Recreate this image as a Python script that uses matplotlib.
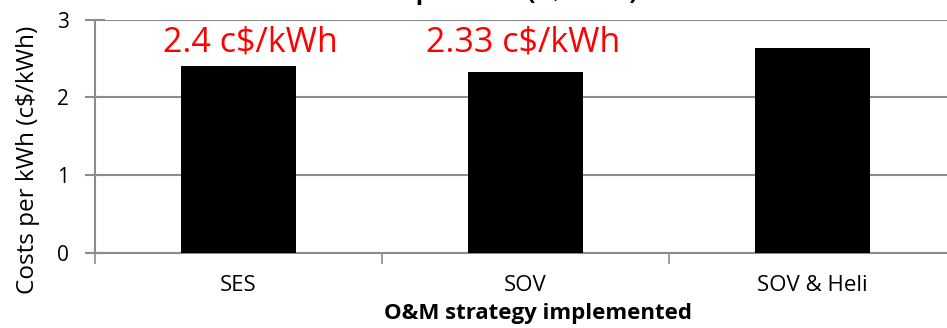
import matplotlib
matplotlib.use("Agg")
import matplotlib.pyplot as plt
import numpy as np

categories = ["SES", "SOV", "SOV & Heli"]
values = [2.4, 2.33, 2.63]
annotations = ["2.4 c$/kWh", "2.33 c$/kWh"]
annot_x = [0.04, 0.99]
annot_y = [2.71, 2.71]
title = "Costs per kWh (c$/kWh)"
yticks = [0, 1, 2, 3]

fig = plt.figure(figsize=(9.47, 3.28), dpi=100)
ax_left, ax_bottom = 95/947, 75.3/328
ax_w, ax_h = (956-95)/947, 233/328
ax = fig.add_axes([ax_left, ax_bottom, ax_w, ax_h])

x = np.arange(len(categories))
ax.bar(x, values, width=0.4, color="black", zorder=3)

ax.set_xlim(-0.5, len(categories) - 0.5)
ax.set_ylim(0, 3)
ax.set_yticks(yticks)
ax.set_yticklabels([str(t) for t in yticks], fontsize=15, family="Open Sans")
ax.yaxis.grid(True, color="#8c8c8c", linewidth=1.5, zorder=0)
ax.set_axisbelow(True)

ax.set_xticks(x)
ax.set_xticklabels(categories, fontsize=16, family="Open Sans")
ax.tick_params(axis="x", length=0, pad=16)
ax.set_xticks(np.arange(len(categories) + 1) - 0.5, minor=True)
ax.tick_params(axis="x", which="minor", length=8, width=1.2, color="#8c8c8c")
ax.tick_params(axis="y", length=14, width=1.5, color="#8c8c8c", pad=12,
               direction="inout")

for s in ["top", "right"]:
    ax.spines[s].set_visible(False)
for s in ["left", "bottom"]:
    ax.spines[s].set_color("#8c8c8c")
    ax.spines[s].set_linewidth(1.5)

for t, xx, yy in zip(annotations, annot_x, annot_y):
    ax.text(xx, yy, t, color="red", fontsize=24.5, family="Open Sans",
            ha="center", va="center")

ax.set_xlabel("O&M strategy implemented", fontsize=16, family="Open Sans",
              fontweight="bold")
ax.xaxis.set_label_coords((538 - 95) / (956 - 95), -(313 - 252.7) / 233)
ax.xaxis.label.set_va("center")
ax.set_ylabel("Costs per kWh (c$/kWh)", fontsize=17.5, family="Open Sans")
ax.yaxis.set_label_coords(-(95 - 28) / (956 - 95), (252.7 - 160) / 233)
ax.yaxis.label.set_va("center")

fig.text(490/947, 1 + 1/328, title, fontsize=18, fontweight="bold",
         family="Open Sans", ha="center", va="baseline")

fig.savefig("out.png", dpi=100)
